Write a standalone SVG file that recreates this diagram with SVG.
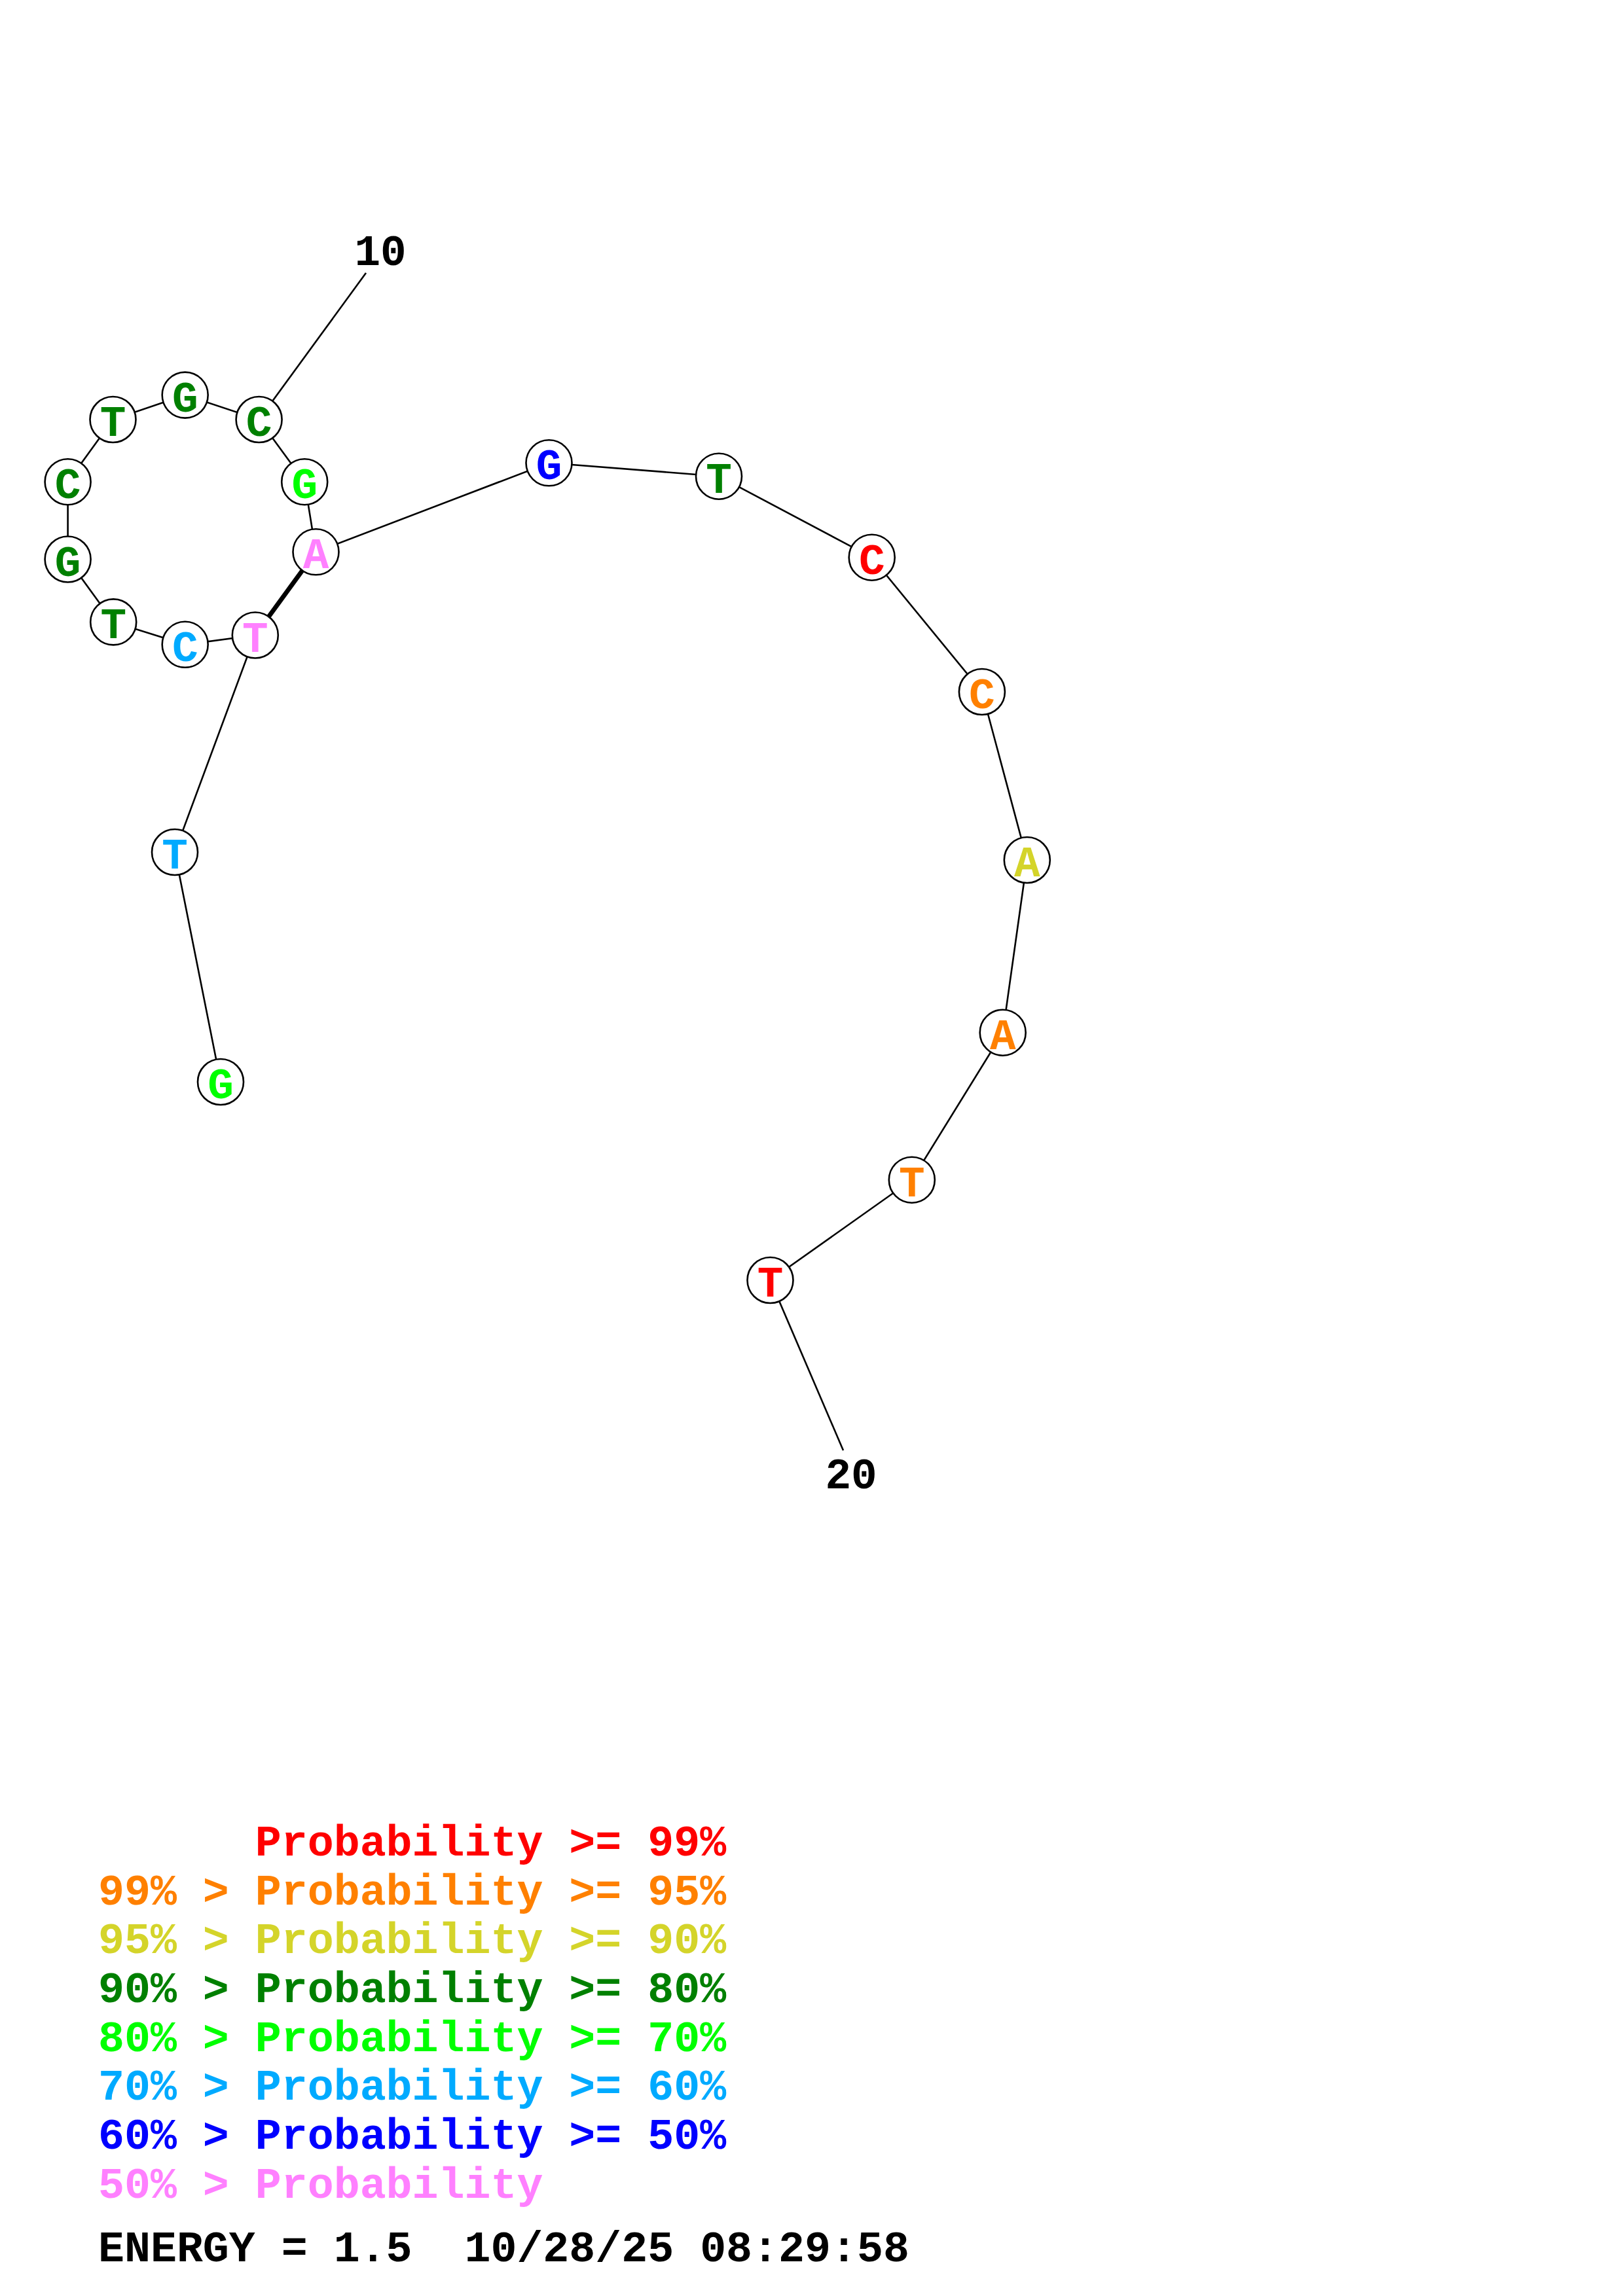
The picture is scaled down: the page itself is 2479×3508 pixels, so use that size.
<svg xmlns="http://www.w3.org/2000/svg" width="2479" height="3508" viewBox="0 0 2479 3508">
<style>
.bg{fill:#ffffff}
.bb{stroke:#000;stroke-width:2.6;fill:none}
.pair{stroke:#000;stroke-width:7;fill:none}
.nc{fill:#fff;stroke:#000;stroke-width:2.6}
.nt{font-family:"Liberation Mono","DejaVu Sans Mono",monospace;font-weight:bold;font-size:66px;text-anchor:middle}
.lg{font-family:"Liberation Mono","DejaVu Sans Mono",monospace;font-weight:bold;font-size:66.6px}
.num{font-family:"Liberation Mono","DejaVu Sans Mono",monospace;font-weight:bold;font-size:66px;text-anchor:middle;fill:#000}
.red{fill:#FF0000}.org{fill:#FF8000}.yel{fill:#D4D42A}.dgr{fill:#008000}.lgr{fill:#00FF00}.lbl{fill:#00AAFF}.blu{fill:#0000FF}.pnk{fill:#FF80FF}.blk{fill:#000}
</style>
<rect class="bg" x="0" y="0" width="2479" height="3508"/>
<g id="connectors">
<polyline class="bb" points="337,1653 267,1302 389.8,970.5 282.7,984.8 173.2,950.4 103.6,854.5 103.6,736.2 172.5,641 282.7,603.6 395.6,641 465.2,736.2 482.5,843.3 838.5,707.3 1098,727.7 1331.7,851.7 1499.9,1057 1568.8,1314 1531.7,1577.7 1392.8,1802.7 1176.5,1956"/>
<line class="pair" x1="389.8" y1="970.5" x2="482.5" y2="843.3"/>
<line class="bb" x1="395.6" y1="641" x2="559" y2="417"/>
<line class="bb" x1="1176.5" y1="1956" x2="1288" y2="2216"/>
</g>
<g id="n1"><circle class="nc" cx="337" cy="1653" r="35"/><text class="nt lgr" x="337" y="1678">G</text></g>
<g id="n2"><circle class="nc" cx="267" cy="1302" r="35"/><text class="nt lbl" x="267" y="1327">T</text></g>
<g id="n3"><circle class="nc" cx="389.8" cy="970.5" r="35"/><text class="nt pnk" x="389.8" y="995.5">T</text></g>
<g id="n4"><circle class="nc" cx="282.7" cy="984.8" r="35"/><text class="nt lbl" x="282.7" y="1009.8">C</text></g>
<g id="n5"><circle class="nc" cx="173.2" cy="950.4" r="35"/><text class="nt dgr" x="173.2" y="975.4">T</text></g>
<g id="n6"><circle class="nc" cx="103.6" cy="854.5" r="35"/><text class="nt dgr" x="103.6" y="879.5">G</text></g>
<g id="n7"><circle class="nc" cx="103.6" cy="736.2" r="35"/><text class="nt dgr" x="103.6" y="761.2">C</text></g>
<g id="n8"><circle class="nc" cx="172.5" cy="641" r="35"/><text class="nt dgr" x="172.5" y="666">T</text></g>
<g id="n9"><circle class="nc" cx="282.7" cy="603.6" r="35"/><text class="nt dgr" x="282.7" y="628.6">G</text></g>
<g id="n10"><circle class="nc" cx="395.6" cy="641" r="35"/><text class="nt dgr" x="395.6" y="666">C</text></g>
<g id="n11"><circle class="nc" cx="465.2" cy="736.2" r="35"/><text class="nt lgr" x="465.2" y="761.2">G</text></g>
<g id="n12"><circle class="nc" cx="482.5" cy="843.3" r="35"/><text class="nt pnk" x="482.5" y="868.3">A</text></g>
<g id="n13"><circle class="nc" cx="838.5" cy="707.3" r="35"/><text class="nt blu" x="838.5" y="732.3">G</text></g>
<g id="n14"><circle class="nc" cx="1098" cy="727.7" r="35"/><text class="nt dgr" x="1098" y="752.7">T</text></g>
<g id="n15"><circle class="nc" cx="1331.7" cy="851.7" r="35"/><text class="nt red" x="1331.7" y="876.7">C</text></g>
<g id="n16"><circle class="nc" cx="1499.9" cy="1057" r="35"/><text class="nt org" x="1499.9" y="1082">C</text></g>
<g id="n17"><circle class="nc" cx="1568.8" cy="1314" r="35"/><text class="nt yel" x="1568.8" y="1339">A</text></g>
<g id="n18"><circle class="nc" cx="1531.7" cy="1577.7" r="35"/><text class="nt org" x="1531.7" y="1602.7">A</text></g>
<g id="n19"><circle class="nc" cx="1392.8" cy="1802.7" r="35"/><text class="nt org" x="1392.8" y="1827.7">T</text></g>
<g id="n20"><circle class="nc" cx="1176.5" cy="1956" r="35"/><text class="nt red" x="1176.5" y="1981">T</text></g>
<g id="labels">
<text class="num" x="581" y="405">10</text>
<text class="num" x="1300" y="2274">20</text>
</g>
<g id="legend">
<text class="lg red" x="389.8" y="2835">Probability &gt;= 99%</text>
<text class="lg org" x="150" y="2910">99% &gt; Probability &gt;= 95%</text>
<text class="lg yel" x="150" y="2984">95% &gt; Probability &gt;= 90%</text>
<text class="lg dgr" x="150" y="3059">90% &gt; Probability &gt;= 80%</text>
<text class="lg lgr" x="150" y="3134">80% &gt; Probability &gt;= 70%</text>
<text class="lg lbl" x="150" y="3208">70% &gt; Probability &gt;= 60%</text>
<text class="lg blu" x="150" y="3283">60% &gt; Probability &gt;= 50%</text>
<text class="lg pnk" x="150" y="3358">50% &gt; Probability</text>
<text class="lg blk" x="150" y="3455" xml:space="preserve">ENERGY = 1.5  10/28/25 08:29:58</text>
</g>
</svg>
